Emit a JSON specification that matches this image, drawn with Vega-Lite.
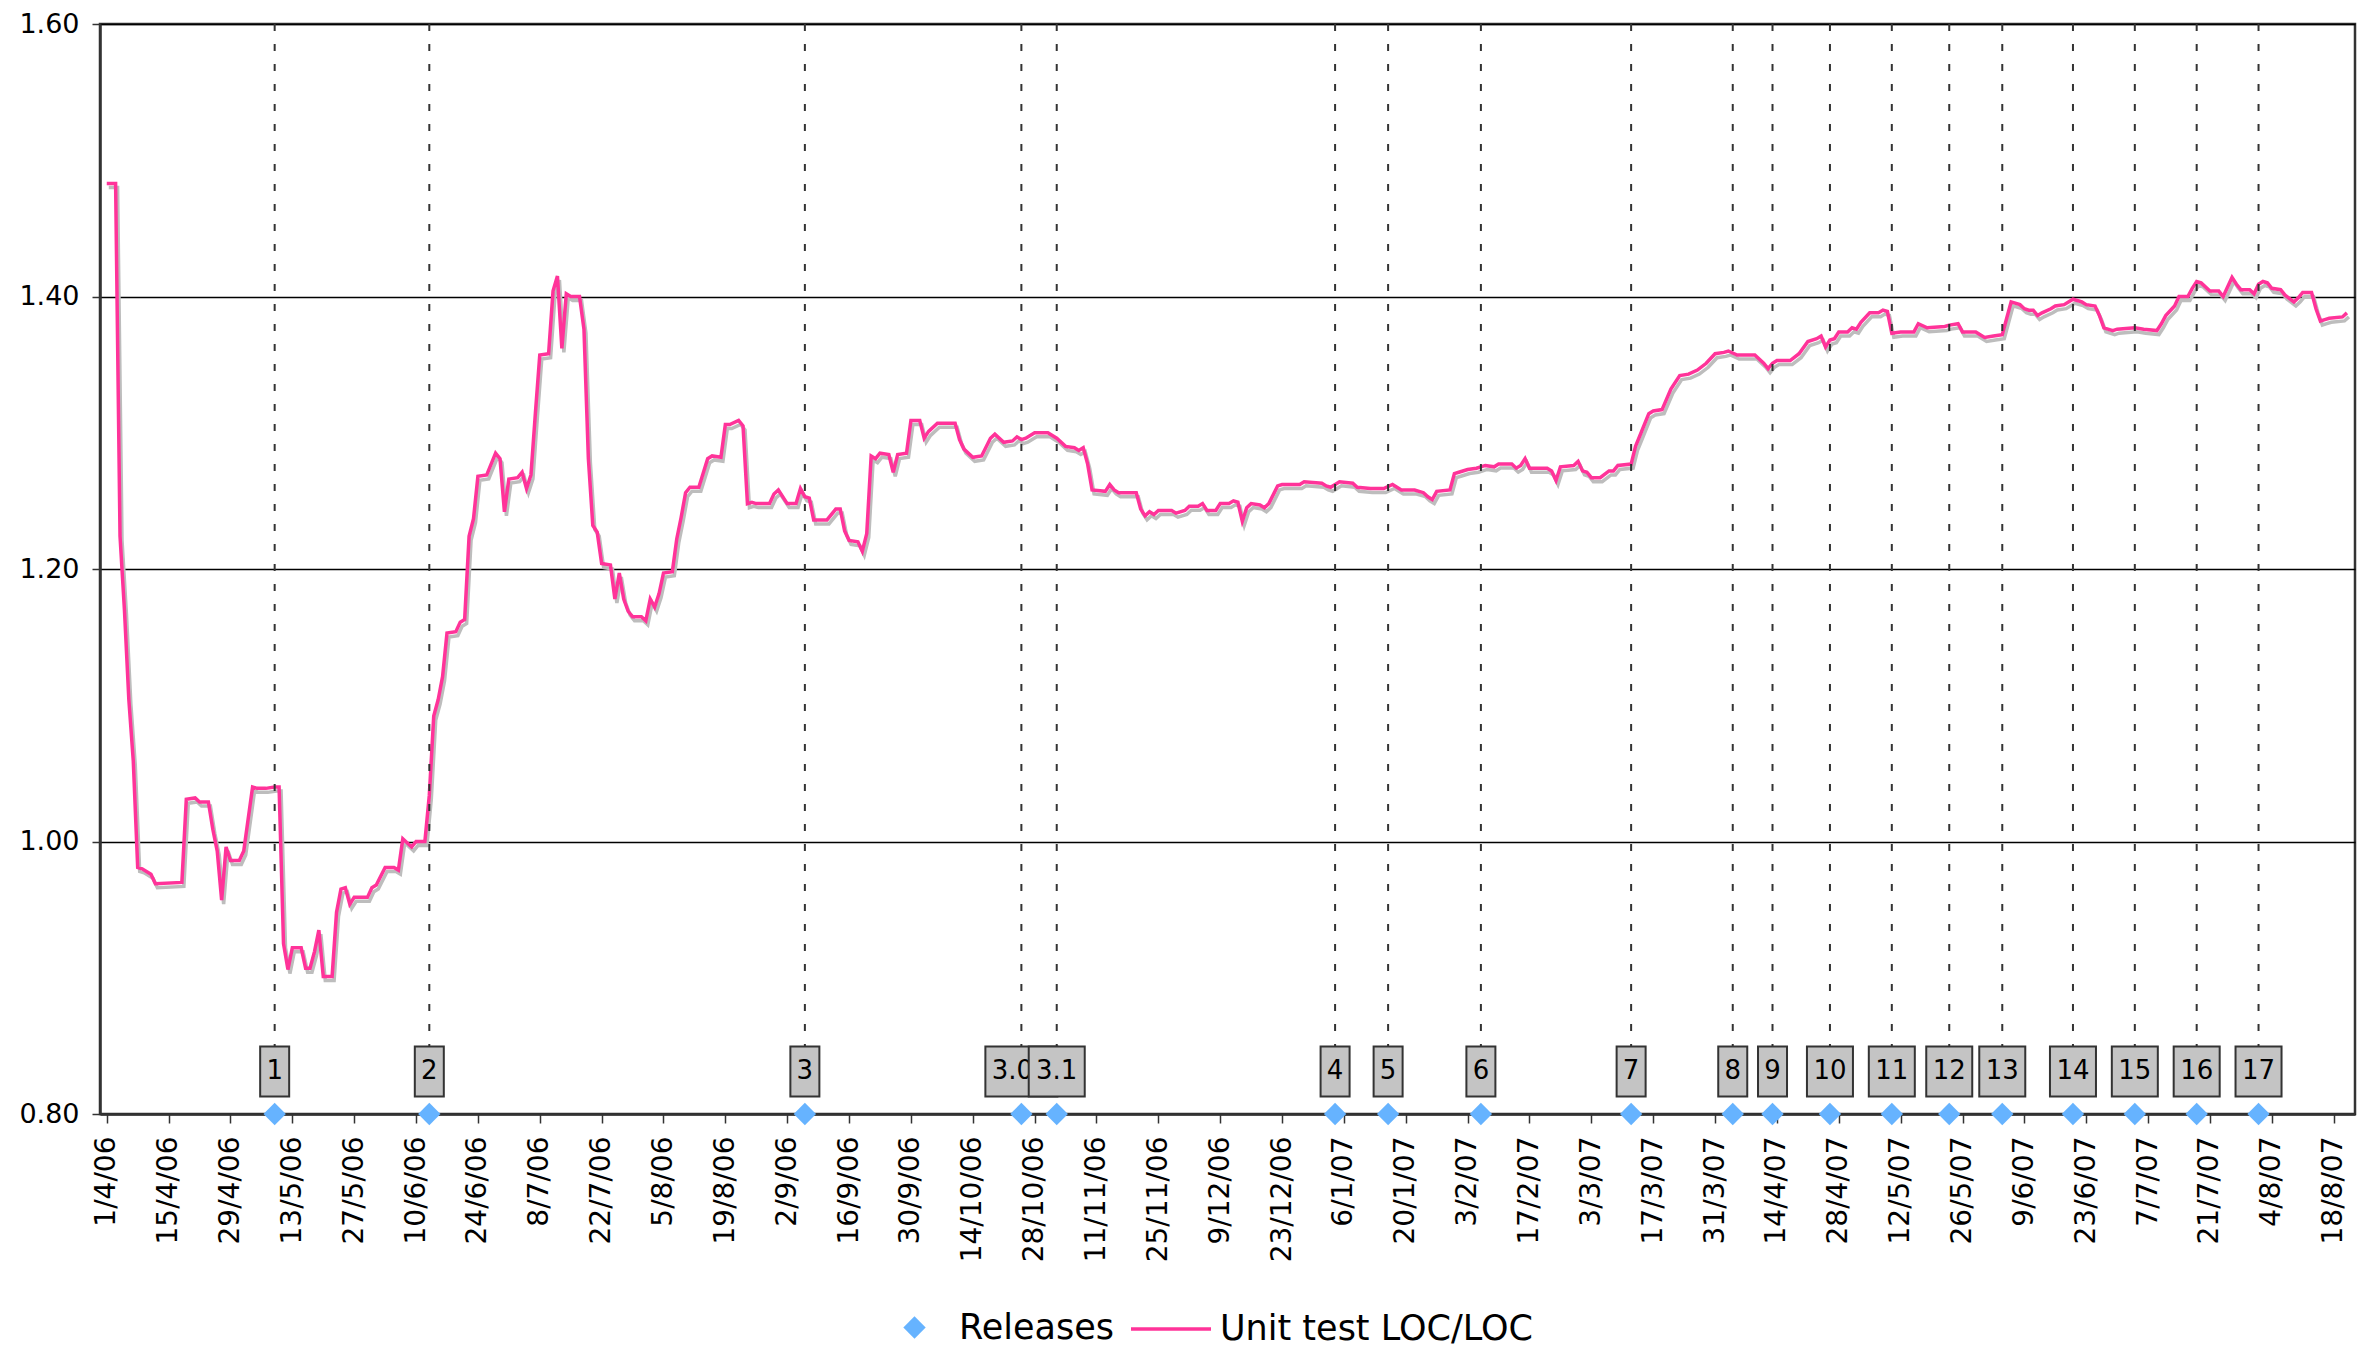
{
  "$schema": "https://vega.github.io/schema/vega-lite/v6.json",
  "width": 2255,
  "height": 1090,
  "autosize": {"type": "none"},
  "padding": {"left": 100, "top": 24, "right": 15, "bottom": 234},
  "background": "white",
  "config": {
    "font": "DejaVu Sans",
    "view": {"stroke": "#333333", "strokeWidth": 2.5}
  },
  "datasets": {
    "ratio": [
      {"date":"2006-04-01","value":1.483},{"date":"2006-04-03","value":1.483},{"date":"2006-04-04","value":1.224},{"date":"2006-04-05","value":1.170},{"date":"2006-04-06","value":1.104},{"date":"2006-04-07","value":1.059},{"date":"2006-04-08","value":0.981},{"date":"2006-04-09","value":0.980},{"date":"2006-04-11","value":0.976},{"date":"2006-04-12","value":0.969},{"date":"2006-04-18","value":0.970},{"date":"2006-04-19","value":1.031},{"date":"2006-04-21","value":1.032},{"date":"2006-04-22","value":1.029},{"date":"2006-04-24","value":1.029},{"date":"2006-04-25","value":1.009},{"date":"2006-04-26","value":0.993},{"date":"2006-04-27","value":0.957},{"date":"2006-04-28","value":0.996},{"date":"2006-04-29","value":0.986},{"date":"2006-05-01","value":0.986},{"date":"2006-05-02","value":0.993},{"date":"2006-05-04","value":1.040},{"date":"2006-05-05","value":1.039},{"date":"2006-05-07","value":1.039},{"date":"2006-05-09","value":1.040},{"date":"2006-05-10","value":1.040},{"date":"2006-05-11","value":0.925},{"date":"2006-05-12","value":0.906},{"date":"2006-05-13","value":0.922},{"date":"2006-05-15","value":0.922},{"date":"2006-05-16","value":0.907},{"date":"2006-05-17","value":0.907},{"date":"2006-05-18","value":0.919},{"date":"2006-05-19","value":0.935},{"date":"2006-05-20","value":0.901},{"date":"2006-05-22","value":0.901},{"date":"2006-05-23","value":0.948},{"date":"2006-05-24","value":0.965},{"date":"2006-05-25","value":0.966},{"date":"2006-05-26","value":0.954},{"date":"2006-05-27","value":0.959},{"date":"2006-05-30","value":0.959},{"date":"2006-05-31","value":0.966},{"date":"2006-06-01","value":0.968},{"date":"2006-06-03","value":0.981},{"date":"2006-06-05","value":0.981},{"date":"2006-06-06","value":0.979},{"date":"2006-06-07","value":1.002},{"date":"2006-06-09","value":0.996},{"date":"2006-06-10","value":1.000},{"date":"2006-06-12","value":1.000},{"date":"2006-06-13","value":1.034},{"date":"2006-06-14","value":1.092},{"date":"2006-06-15","value":1.104},{"date":"2006-06-16","value":1.121},{"date":"2006-06-17","value":1.153},{"date":"2006-06-19","value":1.154},{"date":"2006-06-20","value":1.161},{"date":"2006-06-21","value":1.163},{"date":"2006-06-22","value":1.224},{"date":"2006-06-23","value":1.237},{"date":"2006-06-24","value":1.268},{"date":"2006-06-26","value":1.269},{"date":"2006-06-28","value":1.285},{"date":"2006-06-29","value":1.281},{"date":"2006-06-30","value":1.242},{"date":"2006-07-01","value":1.266},{"date":"2006-07-03","value":1.267},{"date":"2006-07-04","value":1.271},{"date":"2006-07-05","value":1.259},{"date":"2006-07-06","value":1.269},{"date":"2006-07-07","value":1.314},{"date":"2006-07-08","value":1.357},{"date":"2006-07-10","value":1.358},{"date":"2006-07-11","value":1.404},{"date":"2006-07-12","value":1.415},{"date":"2006-07-13","value":1.362},{"date":"2006-07-14","value":1.402},{"date":"2006-07-15","value":1.400},{"date":"2006-07-17","value":1.400},{"date":"2006-07-18","value":1.376},{"date":"2006-07-19","value":1.281},{"date":"2006-07-20","value":1.232},{"date":"2006-07-21","value":1.227},{"date":"2006-07-22","value":1.204},{"date":"2006-07-24","value":1.203},{"date":"2006-07-25","value":1.178},{"date":"2006-07-26","value":1.197},{"date":"2006-07-27","value":1.178},{"date":"2006-07-28","value":1.169},{"date":"2006-07-29","value":1.165},{"date":"2006-07-31","value":1.165},{"date":"2006-08-01","value":1.162},{"date":"2006-08-02","value":1.178},{"date":"2006-08-03","value":1.172},{"date":"2006-08-04","value":1.182},{"date":"2006-08-05","value":1.197},{"date":"2006-08-07","value":1.198},{"date":"2006-08-08","value":1.222},{"date":"2006-08-09","value":1.238},{"date":"2006-08-10","value":1.256},{"date":"2006-08-11","value":1.260},{"date":"2006-08-13","value":1.260},{"date":"2006-08-15","value":1.281},{"date":"2006-08-16","value":1.283},{"date":"2006-08-18","value":1.282},{"date":"2006-08-19","value":1.306},{"date":"2006-08-20","value":1.306},{"date":"2006-08-22","value":1.309},{"date":"2006-08-23","value":1.305},{"date":"2006-08-24","value":1.248},{"date":"2006-08-25","value":1.249},{"date":"2006-08-26","value":1.248},{"date":"2006-08-29","value":1.248},{"date":"2006-08-30","value":1.255},{"date":"2006-08-31","value":1.258},{"date":"2006-09-02","value":1.248},{"date":"2006-09-04","value":1.248},{"date":"2006-09-05","value":1.259},{"date":"2006-09-06","value":1.253},{"date":"2006-09-07","value":1.252},{"date":"2006-09-08","value":1.236},{"date":"2006-09-11","value":1.236},{"date":"2006-09-13","value":1.244},{"date":"2006-09-14","value":1.244},{"date":"2006-09-15","value":1.228},{"date":"2006-09-16","value":1.221},{"date":"2006-09-18","value":1.220},{"date":"2006-09-19","value":1.213},{"date":"2006-09-20","value":1.226},{"date":"2006-09-21","value":1.283},{"date":"2006-09-22","value":1.281},{"date":"2006-09-23","value":1.285},{"date":"2006-09-25","value":1.284},{"date":"2006-09-26","value":1.271},{"date":"2006-09-27","value":1.284},{"date":"2006-09-29","value":1.285},{"date":"2006-09-30","value":1.309},{"date":"2006-10-02","value":1.309},{"date":"2006-10-03","value":1.296},{"date":"2006-10-04","value":1.301},{"date":"2006-10-06","value":1.307},{"date":"2006-10-10","value":1.307},{"date":"2006-10-11","value":1.295},{"date":"2006-10-12","value":1.288},{"date":"2006-10-14","value":1.282},{"date":"2006-10-16","value":1.283},{"date":"2006-10-18","value":1.296},{"date":"2006-10-19","value":1.299},{"date":"2006-10-21","value":1.293},{"date":"2006-10-23","value":1.294},{"date":"2006-10-24","value":1.297},{"date":"2006-10-25","value":1.295},{"date":"2006-10-26","value":1.296},{"date":"2006-10-28","value":1.300},{"date":"2006-10-31","value":1.300},{"date":"2006-11-02","value":1.296},{"date":"2006-11-04","value":1.290},{"date":"2006-11-06","value":1.289},{"date":"2006-11-07","value":1.287},{"date":"2006-11-08","value":1.289},{"date":"2006-11-09","value":1.277},{"date":"2006-11-10","value":1.258},{"date":"2006-11-13","value":1.257},{"date":"2006-11-14","value":1.262},{"date":"2006-11-15","value":1.258},{"date":"2006-11-16","value":1.256},{"date":"2006-11-20","value":1.256},{"date":"2006-11-21","value":1.244},{"date":"2006-11-22","value":1.239},{"date":"2006-11-23","value":1.242},{"date":"2006-11-24","value":1.240},{"date":"2006-11-25","value":1.243},{"date":"2006-11-28","value":1.243},{"date":"2006-11-29","value":1.241},{"date":"2006-12-01","value":1.243},{"date":"2006-12-02","value":1.246},{"date":"2006-12-04","value":1.246},{"date":"2006-12-05","value":1.248},{"date":"2006-12-06","value":1.243},{"date":"2006-12-08","value":1.243},{"date":"2006-12-09","value":1.248},{"date":"2006-12-11","value":1.248},{"date":"2006-12-12","value":1.250},{"date":"2006-12-13","value":1.249},{"date":"2006-12-14","value":1.235},{"date":"2006-12-15","value":1.245},{"date":"2006-12-16","value":1.248},{"date":"2006-12-18","value":1.247},{"date":"2006-12-19","value":1.245},{"date":"2006-12-20","value":1.248},{"date":"2006-12-22","value":1.261},{"date":"2006-12-23","value":1.262},{"date":"2006-12-27","value":1.262},{"date":"2006-12-28","value":1.264},{"date":"2007-01-01","value":1.263},{"date":"2007-01-02","value":1.261},{"date":"2007-01-03","value":1.260},{"date":"2007-01-05","value":1.264},{"date":"2007-01-08","value":1.263},{"date":"2007-01-09","value":1.260},{"date":"2007-01-12","value":1.259},{"date":"2007-01-15","value":1.259},{"date":"2007-01-17","value":1.262},{"date":"2007-01-19","value":1.258},{"date":"2007-01-22","value":1.258},{"date":"2007-01-24","value":1.256},{"date":"2007-01-25","value":1.253},{"date":"2007-01-26","value":1.251},{"date":"2007-01-27","value":1.257},{"date":"2007-01-30","value":1.258},{"date":"2007-01-31","value":1.270},{"date":"2007-02-01","value":1.271},{"date":"2007-02-03","value":1.273},{"date":"2007-02-05","value":1.274},{"date":"2007-02-07","value":1.276},{"date":"2007-02-09","value":1.275},{"date":"2007-02-10","value":1.277},{"date":"2007-02-13","value":1.277},{"date":"2007-02-14","value":1.274},{"date":"2007-02-15","value":1.276},{"date":"2007-02-16","value":1.281},{"date":"2007-02-17","value":1.274},{"date":"2007-02-21","value":1.274},{"date":"2007-02-22","value":1.272},{"date":"2007-02-23","value":1.265},{"date":"2007-02-24","value":1.275},{"date":"2007-02-27","value":1.276},{"date":"2007-02-28","value":1.279},{"date":"2007-03-01","value":1.272},{"date":"2007-03-02","value":1.271},{"date":"2007-03-03","value":1.267},{"date":"2007-03-05","value":1.267},{"date":"2007-03-07","value":1.272},{"date":"2007-03-08","value":1.272},{"date":"2007-03-09","value":1.276},{"date":"2007-03-12","value":1.277},{"date":"2007-03-13","value":1.290},{"date":"2007-03-14","value":1.298},{"date":"2007-03-16","value":1.314},{"date":"2007-03-17","value":1.316},{"date":"2007-03-19","value":1.317},{"date":"2007-03-21","value":1.332},{"date":"2007-03-23","value":1.342},{"date":"2007-03-25","value":1.343},{"date":"2007-03-27","value":1.346},{"date":"2007-03-29","value":1.351},{"date":"2007-03-31","value":1.358},{"date":"2007-04-02","value":1.359},{"date":"2007-04-03","value":1.360},{"date":"2007-04-05","value":1.357},{"date":"2007-04-09","value":1.357},{"date":"2007-04-11","value":1.351},{"date":"2007-04-12","value":1.347},{"date":"2007-04-13","value":1.351},{"date":"2007-04-14","value":1.353},{"date":"2007-04-17","value":1.353},{"date":"2007-04-19","value":1.358},{"date":"2007-04-21","value":1.367},{"date":"2007-04-23","value":1.369},{"date":"2007-04-24","value":1.371},{"date":"2007-04-25","value":1.363},{"date":"2007-04-26","value":1.368},{"date":"2007-04-27","value":1.369},{"date":"2007-04-28","value":1.374},{"date":"2007-04-30","value":1.374},{"date":"2007-05-01","value":1.377},{"date":"2007-05-02","value":1.376},{"date":"2007-05-03","value":1.381},{"date":"2007-05-05","value":1.388},{"date":"2007-05-07","value":1.388},{"date":"2007-05-08","value":1.390},{"date":"2007-05-09","value":1.389},{"date":"2007-05-10","value":1.373},{"date":"2007-05-12","value":1.374},{"date":"2007-05-15","value":1.374},{"date":"2007-05-16","value":1.380},{"date":"2007-05-18","value":1.377},{"date":"2007-05-22","value":1.378},{"date":"2007-05-23","value":1.379},{"date":"2007-05-25","value":1.380},{"date":"2007-05-26","value":1.374},{"date":"2007-05-29","value":1.374},{"date":"2007-05-30","value":1.372},{"date":"2007-05-31","value":1.370},{"date":"2007-06-02","value":1.371},{"date":"2007-06-04","value":1.372},{"date":"2007-06-05","value":1.384},{"date":"2007-06-06","value":1.396},{"date":"2007-06-08","value":1.394},{"date":"2007-06-09","value":1.391},{"date":"2007-06-10","value":1.390},{"date":"2007-06-11","value":1.390},{"date":"2007-06-12","value":1.386},{"date":"2007-06-13","value":1.388},{"date":"2007-06-15","value":1.391},{"date":"2007-06-16","value":1.393},{"date":"2007-06-18","value":1.394},{"date":"2007-06-20","value":1.398},{"date":"2007-06-22","value":1.396},{"date":"2007-06-23","value":1.394},{"date":"2007-06-25","value":1.393},{"date":"2007-06-26","value":1.386},{"date":"2007-06-27","value":1.377},{"date":"2007-06-29","value":1.375},{"date":"2007-06-30","value":1.376},{"date":"2007-07-04","value":1.377},{"date":"2007-07-06","value":1.376},{"date":"2007-07-09","value":1.375},{"date":"2007-07-10","value":1.380},{"date":"2007-07-11","value":1.386},{"date":"2007-07-13","value":1.393},{"date":"2007-07-14","value":1.400},{"date":"2007-07-16","value":1.400},{"date":"2007-07-17","value":1.406},{"date":"2007-07-18","value":1.411},{"date":"2007-07-19","value":1.410},{"date":"2007-07-21","value":1.404},{"date":"2007-07-23","value":1.404},{"date":"2007-07-24","value":1.400},{"date":"2007-07-26","value":1.414},{"date":"2007-07-27","value":1.409},{"date":"2007-07-28","value":1.405},{"date":"2007-07-30","value":1.405},{"date":"2007-07-31","value":1.402},{"date":"2007-08-01","value":1.409},{"date":"2007-08-02","value":1.411},{"date":"2007-08-03","value":1.410},{"date":"2007-08-04","value":1.406},{"date":"2007-08-06","value":1.405},{"date":"2007-08-07","value":1.401},{"date":"2007-08-09","value":1.396},{"date":"2007-08-10","value":1.399},{"date":"2007-08-11","value":1.403},{"date":"2007-08-13","value":1.403},{"date":"2007-08-14","value":1.391},{"date":"2007-08-15","value":1.382},{"date":"2007-08-16","value":1.383},{"date":"2007-08-17","value":1.384},{"date":"2007-08-20","value":1.385},{"date":"2007-08-21","value":1.388}
    ],
    "releases": [
      {"date":"2006-05-09","label":"1","series":"Releases"},
      {"date":"2006-06-13","label":"2","series":"Releases"},
      {"date":"2006-09-06","label":"3","series":"Releases"},
      {"date":"2006-10-25","label":"3.0","series":"Releases"},
      {"date":"2006-11-02","label":"3.1","series":"Releases"},
      {"date":"2007-01-04","label":"4","series":"Releases"},
      {"date":"2007-01-16","label":"5","series":"Releases"},
      {"date":"2007-02-06","label":"6","series":"Releases"},
      {"date":"2007-03-12","label":"7","series":"Releases"},
      {"date":"2007-04-04","label":"8","series":"Releases"},
      {"date":"2007-04-13","label":"9","series":"Releases"},
      {"date":"2007-04-26","label":"10","series":"Releases"},
      {"date":"2007-05-10","label":"11","series":"Releases"},
      {"date":"2007-05-23","label":"12","series":"Releases"},
      {"date":"2007-06-04","label":"13","series":"Releases"},
      {"date":"2007-06-20","label":"14","series":"Releases"},
      {"date":"2007-07-04","label":"15","series":"Releases"},
      {"date":"2007-07-18","label":"16","series":"Releases"},
      {"date":"2007-08-01","label":"17","series":"Releases"}
    ]
  },
  "encoding": {
    "x": {
      "field": "date",
      "type": "temporal",
      "scale": {"type": "utc", "domain": [1143815040000, 1187714880000]},
      "axis": {
        "title": null,
        "values": [1143849600000,1145059200000,1146268800000,1147478400000,1148688000000,1149897600000,1151107200000,1152316800000,1153526400000,1154736000000,1155945600000,1157155200000,1158364800000,1159574400000,1160784000000,1161993600000,1163203200000,1164412800000,1165622400000,1166832000000,1168041600000,1169251200000,1170460800000,1171670400000,1172880000000,1174089600000,1175299200000,1176508800000,1177718400000,1178928000000,1180137600000,1181347200000,1182556800000,1183766400000,1184976000000,1186185600000,1187395200000],
        "labelExpr": "utcFormat(datum.value, '%-d/%-m/%y')",
        "labelAngle": 270,
        "labelAlign": "right",
        "labelBaseline": "middle",
        "labelFontSize": 28,
        "labelColor": "#000000",
        "labelPadding": 13,
        "labelOverlap": false,
        "labelFlush": false,
        "tickSize": 9,
        "tickColor": "#333333",
        "tickWidth": 1.5,
        "domainColor": "#333333",
        "domainWidth": 2.5,
        "grid": false
      }
    }
  },
  "layer": [
    {
      "data": {"name": "ratio"},
      "mark": {"type": "line", "color": "#bdbdbd", "strokeWidth": 3.5, "xOffset": 2, "yOffset": 4},
      "encoding": {
        "y": {
          "field": "value",
          "type": "quantitative",
          "scale": {"domain": [0.8, 1.6], "nice": false, "zero": false},
          "axis": {
            "title": null,
            "values": [0.8, 1.0, 1.2, 1.4, 1.6],
            "format": ".2f",
            "labelFontSize": 27,
            "labelColor": "#000000",
            "labelPadding": 13,
            "tickSize": 8,
            "tickColor": "#333333",
            "tickWidth": 1.5,
            "domainColor": "#333333",
            "domainWidth": 2.5,
            "grid": true,
            "gridColor": "#000000",
            "gridWidth": 1.5,
            "gridOpacity": 1
          }
        }
      }
    },
    {
      "data": {"name": "ratio"},
      "mark": {"type": "line", "strokeWidth": 3.5},
      "encoding": {
        "y": {"field": "value", "type": "quantitative", "title": null},
        "color": {
          "datum": "Unit test LOC/LOC",
          "type": "nominal",
          "scale": {"domain": ["Unit test LOC/LOC"], "range": ["#ff3399"]},
          "legend": {
            "title": null,
            "orient": "none",
            "legendX": 1029,
            "legendY": 1263,
            "direction": "horizontal",
            "padding": 0,
            "labelFontSize": 35,
            "labelColor": "#000000",
            "labelOffset": 7,
            "labelLimit": 800,
            "symbolType": "stroke",
            "symbolSize": 6400,
            "symbolStrokeWidth": 3.5,
            "symbolStrokeColor": "#ff3399"
          }
        }
      }
    },
    {
      "data": {"name": "releases"},
      "mark": {"type": "rule", "color": "#333333", "strokeWidth": 2, "strokeDash": [7, 13]},
      "encoding": {
        "y": {"datum": 1.6, "type": "quantitative"},
        "y2": {"datum": 0.8495}
      }
    },
    {
      "data": {"name": "releases"},
      "transform": [{"filter": "datum.label !== '3.1'"}],
      "mark": {"type": "bar", "fill": "#c4c4c4", "stroke": "#333333", "strokeWidth": 2},
      "encoding": {
        "y": {"datum": 0.8128, "type": "quantitative"},
        "y2": {"datum": 0.8495},
        "size": {
          "condition": [
            {"test": "datum.label === '3.0'", "value": 72},
            {"test": "length(datum.label) === 2", "value": 46}
          ],
          "value": 29
        }
      }
    },
    {
      "data": {"name": "releases"},
      "transform": [{"filter": "datum.label !== '3.1' && datum.label !== '3.0'"}],
      "mark": {"type": "text", "fontSize": 26, "color": "#000000", "align": "center", "baseline": "middle"},
      "encoding": {
        "y": {"datum": 0.8312, "type": "quantitative"},
        "text": {"field": "label"}
      }
    },
    {
      "data": {"name": "releases"},
      "transform": [{"filter": "datum.label === '3.0'"}],
      "mark": {"type": "text", "fontSize": 26, "color": "#000000", "align": "center", "baseline": "middle", "dx": -9},
      "encoding": {
        "y": {"datum": 0.8312, "type": "quantitative"},
        "text": {"field": "label"}
      }
    },
    {
      "data": {"name": "releases"},
      "transform": [{"filter": "datum.label === '3.1'"}],
      "mark": {"type": "bar", "fill": "#c4c4c4", "stroke": "#333333", "strokeWidth": 2},
      "encoding": {
        "y": {"datum": 0.8128, "type": "quantitative"},
        "y2": {"datum": 0.8495},
        "size": {"value": 56}
      }
    },
    {
      "data": {"name": "releases"},
      "transform": [{"filter": "datum.label === '3.1'"}],
      "mark": {"type": "text", "fontSize": 26, "color": "#000000", "align": "center", "baseline": "middle"},
      "encoding": {
        "y": {"datum": 0.8312, "type": "quantitative"},
        "text": {"field": "label"}
      }
    },
    {
      "data": {"name": "releases"},
      "mark": {"type": "point", "filled": true, "size": 500, "opacity": 1, "color": "#66b3ff"},
      "encoding": {
        "y": {"datum": 0.8, "type": "quantitative"},
        "shape": {
          "field": "series",
          "type": "nominal",
          "scale": {"domain": ["Releases"], "range": ["diamond"]},
          "legend": {
            "title": null,
            "orient": "none",
            "legendX": 797,
            "legendY": 1286,
            "direction": "horizontal",
            "padding": 0,
            "labelFontSize": 35,
            "labelColor": "#000000",
            "labelOffset": 27,
            "labelLimit": 800,
            "symbolSize": 500,
            "symbolFillColor": "#66b3ff",
            "symbolStrokeWidth": 0,
            "symbolOpacity": 1
          }
        }
      }
    }
  ]
}
